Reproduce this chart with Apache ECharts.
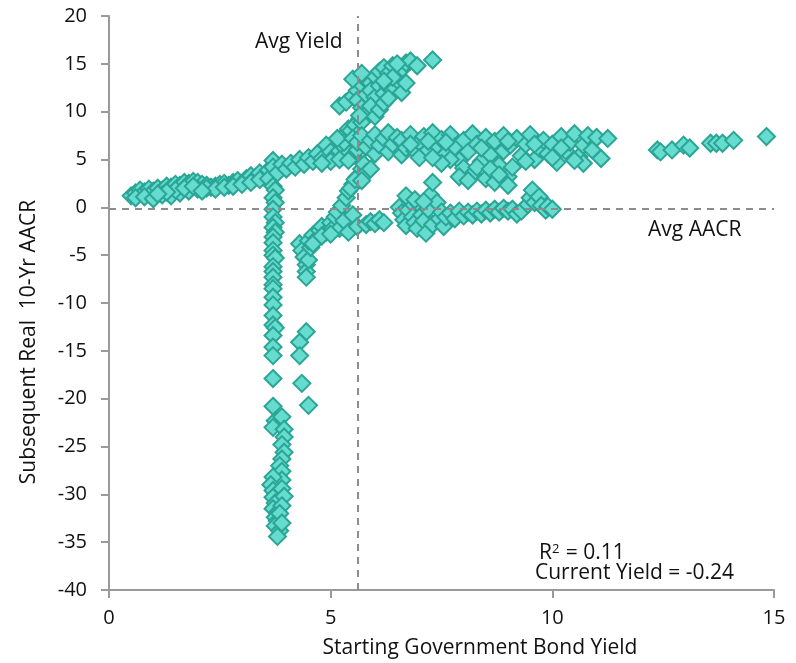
<!DOCTYPE html>
<html>
<head>
<meta charset="utf-8">
<script src="https://cdn.jsdelivr.net/npm/echarts@6/dist/echarts.min.js"></script>
<style>
  html, body { margin: 0; padding: 0; background: #fff; }
  #chart { width: 796px; height: 663px; }
</style>
</head>
<body>
<div id="chart"></div>
<script>
// Starting yield (x) vs subsequent real 10-yr AACR (y), grouped by regime
const lowYieldArm = [
  [0.5,1.2],[0.6,1.5],[0.7,1.8],[0.8,1.6],[0.9,1.9],[1.0,1.7],[1.1,2.0],[1.2,1.8],
  [1.3,2.2],[1.4,2.1],[1.5,2.4],[1.6,2.3],[1.7,2.6],[1.8,2.5],[1.9,2.7],[2.0,2.6],
  [2.1,2.4],[2.2,2.3],[2.3,2.1],[2.4,2.2],[2.5,2.4],[2.6,2.5],[2.7,2.3],[2.8,2.6],
  [2.9,2.8],[3.0,2.5],[3.1,3.0],[3.2,3.3],[3.3,3.1],[3.4,3.6],[3.5,3.2],[3.6,3.9],
  [0.6,1.0],[0.8,1.1],[1.0,0.9],[1.2,1.3],[1.4,1.2],[1.6,1.5],[1.8,1.7],[2.0,1.9],
  [2.2,2.0],[2.4,1.9],[2.6,2.1],[2.8,2.2],[3.0,2.4],[3.2,2.6],[3.4,2.9],[3.6,3.0],
  [1.5,1.8],[1.7,2.0],[1.9,2.2],[2.1,1.7],[1.3,1.6],[1.1,1.4]
];
const risingArm = [
  [3.7,4.9],[3.7,4.2],[3.8,3.6],[3.9,4.5],[4.0,4.0],[4.1,4.6],[4.2,4.2],[4.3,5.0],
  [4.4,4.5],[4.5,5.2],[4.6,4.8],[4.7,5.6],[4.8,5.1],[4.9,6.5],[5.0,5.8],[5.1,5.4],
  [5.2,5.9],[5.3,6.3],[5.4,5.7],[5.5,5.4],[5.6,6.0],[5.0,4.8],[4.8,4.6],[5.2,5.0],
  [5.4,4.9],[5.3,7.5],[5.4,8.2],[5.3,6.8],[5.15,7.2]
];
const upperColumn = [
  [3.7,2.2],[3.75,1.8],[3.7,1.0],[3.75,0.5],[3.7,-0.2],[3.7,-1.0],[3.75,-1.6],[3.7,-2.1],
  [3.75,-2.6],[3.7,-3.1],[3.7,-3.7],[3.7,-4.5],[3.7,-5.0],[3.75,-5.3],[3.7,-6.2],[3.7,-6.7],
  [3.7,-7.3],[3.7,-8.1],[3.7,-8.5],[3.7,-9.4],[3.7,-10.2],[3.7,-11.3],[3.7,-12.3],[3.75,-12.6],
  [3.7,-13.4],[3.7,-14.6],[3.7,-15.5],[3.7,-17.9]
];
const lowerColumn = [
  [3.7,-20.8],[3.75,-22.3],[3.7,-23.0],[3.9,-21.9],[3.95,-23.2],[3.95,-24.0],[3.9,-24.8],
  [3.95,-25.6],[3.9,-26.3],[3.85,-27.0],[3.9,-27.6],[3.9,-28.5],[3.7,-28.2],[3.65,-29.0],
  [3.7,-29.6],[3.7,-30.3],[3.75,-30.9],[3.7,-31.5],[3.8,-31.9],[3.75,-32.4],[3.8,-32.8],
  [3.75,-33.3],[3.85,-33.8],[3.8,-34.4],[3.9,-29.4],[3.95,-30.2],[3.9,-31.2],[3.85,-32.0],
  [3.9,-33.0]
];
const secondColumn = [
  [4.45,-13.0],[4.3,-14.1],[4.3,-15.5],[4.35,-18.4],[4.5,-20.7]
];
const recoveryArm = [
  [4.3,-3.8],[4.35,-4.5],[4.4,-5.2],[4.45,-6.0],[4.45,-6.7],[4.45,-7.3],[4.5,-5.5],[4.55,-4.2],
  [4.5,-3.5],[4.6,-2.9],[4.7,-3.2],[4.75,-2.4],[4.8,-2.0],[4.9,-2.6],[5.0,-1.6],[5.05,-2.2],
  [5.1,-1.0],[5.15,-0.5],[5.2,-2.2],[5.25,0.2],[5.3,-1.4],[5.35,1.0],[5.4,-2.6],[5.4,1.7],
  [5.5,2.4],[5.5,-0.8],[5.6,3.2],[5.6,-2.0],[5.7,4.0],[5.8,-1.8],[5.9,-1.5],[6.0,-1.7],
  [6.1,-1.3],[6.2,-1.6],[4.6,-3.8],[4.8,-3.0],[5.0,-2.8],[5.45,2.0],[5.55,2.9]
];
const highReturnArm = [
  [5.2,10.6],[5.35,11.0],[5.5,11.6],[5.6,12.2],[5.7,12.8],[5.8,13.3],[5.9,13.0],[6.0,13.7],
  [6.1,14.2],[6.2,14.6],[6.3,14.0],[6.4,14.8],[6.6,14.4],[6.7,15.1],[6.8,15.3],[6.95,14.8],
  [7.3,15.4],[5.6,11.2],[5.8,11.8],[5.9,12.2],[6.0,11.5],[6.1,12.7],[6.2,11.9],[6.3,12.6],
  [6.4,12.2],[6.5,13.3],[6.6,12.0],[6.7,13.0],[5.7,10.4],[5.8,9.8],[5.9,10.6],[6.0,9.5],
  [6.1,10.2],[6.2,10.9],[6.3,11.4],[5.5,13.4],[5.7,14.0],[5.65,9.2],[6.4,13.6],[6.5,15.0],
  [6.2,13.2],[5.45,8.0],[5.55,8.6],[5.6,7.6],[5.7,8.9],[5.5,7.2],[5.65,9.6]
];
const plateauBand = [
  [5.6,6.8],[5.7,7.5],[5.8,6.3],[5.9,7.0],[6.0,5.6],[6.0,7.6],[6.1,6.5],[6.2,7.2],
  [6.3,5.8],[6.3,7.8],[6.4,6.6],[6.5,7.3],[6.6,5.5],[6.6,7.0],[6.7,6.2],[6.8,7.6],
  [6.9,5.9],[7.0,6.8],[7.0,5.2],[5.75,4.5],[5.8,3.6],[5.7,2.8],[5.9,4.0],
  [7.1,7.4],[7.2,6.0],[7.3,7.8],[7.4,6.5],[7.5,7.1],[7.6,5.6],[7.7,7.6],[7.8,6.3],
  [7.9,4.9],[8.0,7.0],[8.0,4.1],[8.1,5.8],[8.2,7.7],[8.2,3.5],[8.3,6.6],[8.4,4.8],
  [8.5,7.3],[8.5,3.0],[8.6,5.5],[8.7,6.9],[8.7,2.6],[8.8,4.4],[8.9,7.5],[8.9,5.9],
  [9.0,3.2],[9.0,2.3],[9.05,6.5],[7.9,3.2],[8.1,2.8],[8.3,4.2],[8.6,4.0],[8.8,3.4],
  [9.1,4.2],[7.7,5.0],[7.5,4.6],[7.3,5.2],
  [9.2,7.2],[9.3,5.4],[9.4,6.6],[9.5,7.6],[9.6,5.0],[9.7,6.2],[9.8,7.0],[9.9,5.6],
  [10.0,6.6],[10.1,4.7],[10.2,7.4],[10.3,5.9],[10.4,6.8],[10.5,7.7],[10.6,5.3],[10.7,6.5],
  [10.7,4.6],[10.8,7.5],[10.9,6.0],[11.0,7.3],[11.1,5.1],[11.25,7.2],[10.0,5.2],[9.4,4.8],
  [10.5,4.9],[6.8,6.6],[7.2,6.9],[7.6,6.8],[8.4,6.2],[9.0,6.9],[9.6,6.6],[10.2,6.2]
];
const flatBand = [
  [6.55,0.0],[6.6,-0.6],[6.65,-1.3],[6.7,-1.9],[6.75,-0.3],[6.8,0.6],[6.85,-1.0],[6.9,-1.6],
  [6.95,-2.2],[7.0,0.3],[7.05,-0.8],[7.1,-1.4],[7.15,-2.7],[7.2,-0.2],[7.25,1.3],[7.3,2.6],
  [7.3,-1.8],[7.4,0.5],[7.45,-1.2],[7.5,-0.5],[7.55,-2.0],[7.6,-1.0],[7.7,-0.6],[7.8,-1.2],
  [7.9,-0.4],[8.0,-0.9],[8.1,-0.5],[8.2,-0.8],[8.3,-0.4],[8.4,-0.7],[8.5,-0.3],[8.6,-0.6],
  [8.7,-0.2],[8.8,-0.5],[8.9,-0.1],[9.0,-0.4],[9.1,-0.2],[9.2,-0.7],[9.3,-0.4],[9.45,0.3],
  [9.5,1.0],[9.55,1.8],[9.6,0.5],[9.7,1.1],[9.75,0.2],[9.85,-0.3],[9.9,0.1],[10.0,-0.2],
  [6.7,1.2],[6.9,0.8],[7.1,0.6]
];
const highYieldTail = [
  [12.37,6.0],[12.44,5.8],[12.7,6.0],[12.96,6.5],[13.1,6.2],[13.57,6.7],[13.7,6.7],
  [13.84,6.7],[14.09,7.0],[14.83,7.4]
];

const avgYield = 5.6;
const avgAacr = -0.2;
const rSquared = '0.11';
const currentYield = '-0.24';

const xTicks = { min: 0, max: 15, interval: 5 };
const yTicks = { min: -40, max: 20, interval: 5 };

const points = [].concat(lowYieldArm, risingArm, upperColumn, lowerColumn, secondColumn,
  recoveryArm, highReturnArm, plateauBand, flatBand, highYieldTail);

const FONT = '"Open Sans"';
const INK = '#111';
const axisGray = '#9a9a9a';

const chart = echarts.init(document.getElementById('chart'), null, { renderer: 'canvas' });
chart.setOption({
  animation: false,
  backgroundColor: '#fff',
  textStyle: { fontFamily: FONT },
  grid: { left: 109, right: 22, top: 16, bottom: 73, containLabel: false },
  xAxis: {
    type: 'value', min: xTicks.min, max: xTicks.max, interval: xTicks.interval,
    splitLine: { show: false },
    axisLine: { show: true, onZero: false, lineStyle: { color: axisGray, width: 2 } },
    axisTick: { show: true, length: 8, lineStyle: { color: axisGray, width: 2 } },
    axisLabel: { color: INK, fontSize: 20, fontFamily: FONT, margin: 18 }
  },
  yAxis: {
    type: 'value', min: yTicks.min, max: yTicks.max, interval: yTicks.interval,
    splitLine: { show: false },
    axisLine: { show: true, onZero: false, lineStyle: { color: axisGray, width: 2 } },
    axisTick: { show: true, length: 8, lineStyle: { color: axisGray, width: 2 } },
    axisLabel: { color: INK, fontSize: 20, fontFamily: FONT, margin: 22 }
  },
  series: [{
    type: 'scatter',
    data: points,
    symbol: 'diamond',
    symbolSize: 17,
    itemStyle: { color: '#66DCCF', borderColor: '#2AA596', borderWidth: 2, opacity: 1 },
    markLine: {
      silent: true,
      symbol: 'none',
      label: { show: false },
      lineStyle: { color: '#8c8c8c', type: [7, 6], width: 2 },
      data: [{ xAxis: avgYield }, { yAxis: avgAacr }]
    },
    z: 3
  }],
  graphic: [
    { type: 'text', x: 255, y: 42,
      style: { text: 'Avg Yield', font: '21px ' + FONT, fill: INK, verticalAlign: 'middle' } },
    { type: 'text', x: 648, y: 230,
      style: { text: 'Avg AACR', font: '21px ' + FONT, fill: INK, verticalAlign: 'middle' } },
    { type: 'text', x: 539, y: 553,
      style: { text: '{b|R}{s|2}{b| = ' + rSquared + '}', fill: INK, verticalAlign: 'middle',
        rich: { b: { fontSize: 21, fontFamily: FONT, fill: INK, verticalAlign: 'bottom' },
                s: { fontSize: 13, fontFamily: FONT, fill: INK, verticalAlign: 'top', padding: [0, 1, 8, 0] } } } },
    { type: 'text', x: 535, y: 573,
      style: { text: 'Current Yield = ' + currentYield, font: '21px ' + FONT, fill: INK, verticalAlign: 'middle' } },
    { type: 'text', x: 480, y: 648,
      style: { text: 'Starting Government Bond Yield', font: '21px ' + FONT, fill: INK,
        align: 'center', verticalAlign: 'middle' } },
    { type: 'text', x: 29, y: 342, rotation: Math.PI / 2,
      style: { text: 'Subsequent Real  10-Yr AACR', font: '21px ' + FONT, fill: INK,
        align: 'center', verticalAlign: 'middle' } }
  ]
});
</script>
</body>
</html>
